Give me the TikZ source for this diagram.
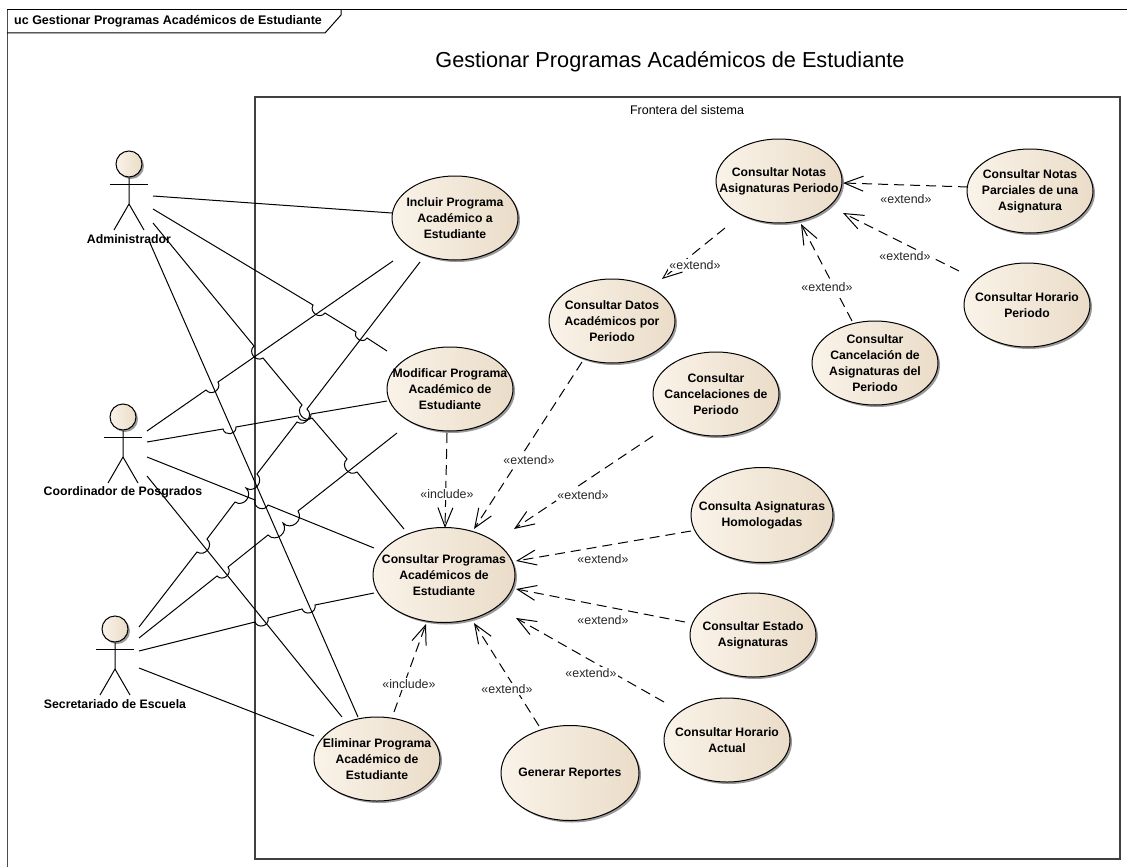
\documentclass[tikz,border=0pt]{standalone}
\usepackage{fontspec}
\setmainfont{Liberation Sans}
\usetikzlibrary{arrows.meta,calc,positioning,shadows,shapes.geometric}

\tikzset{
	uc/.style={ellipse,draw=black,line width=1pt,inner xsep=-30pt,inner ysep=-12pt,outer sep=0pt,
		minimum width=126pt,minimum height=84pt,align=center,font=\fontsize{12.2}{16}\selectfont\bfseries,
		left color=ucleft,middle color=ucmid,right color=ucright,
		drop shadow={shadow xshift=2pt,shadow yshift=-2pt,fill=black,opacity=.4}},
	ucbig/.style={uc,minimum width=142pt,minimum height=95pt},
	head/.style={circle,draw=black,line width=1pt,minimum size=26pt,inner sep=0pt,
		left color=ucleft,middle color=ucmid,right color=ucright,
		drop shadow={shadow xshift=2pt,shadow yshift=-2pt,fill=black,opacity=.4}},
	actorbox/.style={minimum width=48pt,minimum height=10pt,inner sep=0pt,outer sep=0pt},
	actorname/.style={font=\fontsize{12.3}{14}\selectfont\bfseries,inner sep=0pt},
	assoc/.style={line width=1pt,black},
	dep/.style={line width=1pt,black,dash pattern=on 10pt off 6pt,-{Straight Barb[length=19pt,width=15pt,line width=1pt]}},
	jump/.style={bend right=85,looseness=1.5},
	stereo/.style={font=\fontsize{12.4}{14}\selectfont,fill=white,inner sep=1pt,text=black!85}
}
\definecolor{ucleft}{HTML}{FAF3E9}
\definecolor{ucmid}{HTML}{FCF7F0}
\definecolor{ucright}{HTML}{EADCC8}

% stick figure round its box: name, x, y, text
\newcommand{\stickman}[4]{
	\node[actorbox] (#1) at (#2,#3) {};
	\node[head] (#1head) at ($(#1)+(0,-31)$) {};
	\draw[assoc] (#1head.south) -- ($(#1)+(0,9)$) -- ($(#1)+(-15,35)$);
	\draw[assoc] ($(#1)+(0,9)$) -- ($(#1)+(15,35)$);
	\draw[assoc] ($(#1)+(-19,-11)$) -- ($(#1)+(19,-11)$);
	\node[actorname] (#1name) at ($(#1)+(0,44)$) {#4};
}

\begin{document}
\begin{tikzpicture}[x=1pt,y=-1pt]
	\useasboundingbox (0,0) rectangle (1127,867);
	\fill[white] (0,0) rectangle (1127,867);

	% frame
	\coordinate (frametop) at (1127,10);
	\coordinate (framebot) at (7,867);
	\draw[line width=1pt,black!70] (7,10) -- (framebot);
	\draw[line width=1pt] (7,10) -- (frametop);
	\draw[line width=1pt] (7,33) -- (325,33) -- (341,15) -- (341,10);
	\node[anchor=west,inner sep=0pt,font=\fontsize{12.5}{14}\selectfont\bfseries] (frametitle) at (14,21) {uc Gestionar Programas Académicos de Estudiante};
	\node[font=\fontsize{21.7}{24}\selectfont,inner sep=0pt] (title) at (670,62) {Gestionar Programas Académicos de Estudiante};

	% system boundary
	\node[draw=black!75,line width=1.2pt,minimum width=865pt,minimum height=762pt,inner sep=0pt] (frontera) at (687.5,478) {};
	\node[font=\fontsize{12.5}{14}\selectfont,inner sep=0pt] (fronteraname) at (687,110) {Frontera del sistema};

	% use cases
	\node[uc] (incluir) at (455,218) {Incluir Programa\\Académico a\\Estudiante};
	\node[uc] (modificar) at (450,389) {Modificar Programa\\Académico de\\Estudiante};
	\node[ucbig] (programas) at (444,575) {Consultar Programas\\Académicos de\\Estudiante};
	\node[uc] (eliminar) at (377,759) {Eliminar Programa\\Académico de\\Estudiante};
	\node[ucbig,minimum width=138pt] (reportes) at (570,773) {Generar Reportes};
	\node[uc] (horactual) at (727,740) {Consultar Horario\\Actual};
	\node[uc] (estado) at (753,635) {Consultar Estado\\Asignaturas};
	\node[ucbig] (homologadas) at (762,515) {Consulta Asignaturas\\Homologadas};
	\node[uc] (cancelaciones) at (716,394) {Consultar\\Cancelaciones de\\Periodo};
	\node[uc] (datos) at (612,321) {Consultar Datos\\Académicos por\\Periodo};
	\node[uc] (cancelacion) at (875,363) {Consultar\\Cancelación de\\Asignaturas del\\Periodo};
	\node[uc] (notas) at (779,181) {Consultar Notas\\Asignaturas Periodo};
	\node[uc] (parciales) at (1030,191) {Consultar Notas\\Parciales de una\\Asignatura};
	\node[uc] (horperiodo) at (1027,305) {Consultar Horario\\Periodo};

	% actors
	\stickman{admin}{129}{195}{Administrador}
	\stickman{coord}{123}{448}{Coordinador de Posgrados}
	\stickman{secre}{115}{660}{Secretariado de Escuela}

	% associations
	\draw[assoc] ($(admin.east)+(0,1)$) -- ($(incluir)+(-63,-5)$);
	\draw[assoc] ($(admin.east)+(0,14)$) -- (313,305) to[jump] (325,313) -- (356,332) to[jump] (367,338) -- ($(modificar)+(-63,-38)$);
	\draw[assoc] ($(admin.east)+(0,28)$) -- (254,346) to[jump] (263,358) -- (302,405) to[jump] (312,418) -- (347,459) to[jump] (357,472) -- ($(programas)+(-40,-46)$);
	\draw[assoc] ($(admin.east)+(-3,48)$) -- ($(eliminar)+(-19,-42)$);
	\draw[assoc] ($(coord.east)+(0,-17)$) -- (206,390) to[jump] (218,382) -- ($(incluir)+(-62,43)$);
	\draw[assoc] ($(coord.east)+(0,-6)$) -- (223,429) to[jump] (236,427) -- (298,416) to[jump] (311,414) -- ($(modificar)+(-63,12)$);
	\draw[assoc] ($(coord.east)+(0,9)$) -- (255,500) to[jump] (268,505) -- ($(programas)+(-70,-27)$);
	\draw[assoc] ($(coord.east)+(0,28)$) -- ($(eliminar)+(-35,-42)$);
	\draw[assoc] ($(secre.east)+(0,-33)$) -- (197,552) to[jump] (207,539) -- (235,502) to[jump] (246,488) to[jump] (257,474) -- (297,422) to[jump] (307,409) -- ($(incluir)+(-35,44)$);
	\draw[assoc] ($(secre.east)+(0,-22)$) -- (217,576) to[jump] (228,567) -- (268,535) to[jump] (283,523) to[jump] (298,511) -- ($(modificar)+(-53,44)$);
	\draw[assoc] ($(secre.east)+(0,-9)$) -- (255,622) to[jump] (268,618) -- (302,609) to[jump] (315,605) -- ($(programas)+(-70,18)$);
	\draw[assoc] ($(secre.east)+(0,8)$) -- ($(eliminar)+(-63,-23)$);

	% include and extend
	\draw[dep] ($(parciales)+(-62,-4)$) -- ($(notas)+(64,2)$);
	\draw[dep] ($(horperiodo)+(-68,-34)$) -- ($(notas)+(64,32)$);
	\draw[dep] ($(cancelacion)+(-23,-42)$) -- ($(notas)+(22,43)$);
	\draw[dep] ($(notas)+(-54,47)$) -- ($(datos)+(50,-42)$);
	\draw[dep] ($(modificar)+(-3,44)$) -- ($(programas)+(1,-47)$);
	\draw[dep] ($(datos)+(-30,41)$) -- ($(programas)+(30,-46)$);
	\draw[dep] ($(cancelaciones)+(-63,42)$) -- ($(programas)+(70,-46)$);
	\draw[dep] ($(homologadas)+(-71,16)$) -- ($(programas)+(72,-14)$);
	\draw[dep] ($(estado)+(-68,-13)$) -- ($(programas)+(72,14)$);
	\draw[dep] ($(horactual)+(-63,-38)$) -- ($(programas)+(72,43)$);
	\draw[dep] ($(reportes)+(-31,-47)$) -- ($(programas)+(30,48)$);
	\draw[dep] ($(eliminar)+(17,-47)$) -- ($(programas)+(-18,49)$);

	% stereotypes
	\node[stereo] (ext1) at (906,199) {«extend»};
	\node[stereo] (ext2) at (905,256) {«extend»};
	\node[stereo] (ext3) at (827,287) {«extend»};
	\node[stereo] (ext4) at (695,265) {«extend»};
	\node[stereo] (ext5) at (529,460) {«extend»};
	\node[stereo] (ext6) at (583,495) {«extend»};
	\node[stereo] (ext7) at (603,559) {«extend»};
	\node[stereo] (ext8) at (603,620) {«extend»};
	\node[stereo] (ext9) at (591,673) {«extend»};
	\node[stereo] (ext10) at (507,689) {«extend»};
	\node[stereo] (inc1) at (447,494) {«include»};
	\node[stereo] (inc2) at (409,684) {«include»};
\end{tikzpicture}
\end{document}
